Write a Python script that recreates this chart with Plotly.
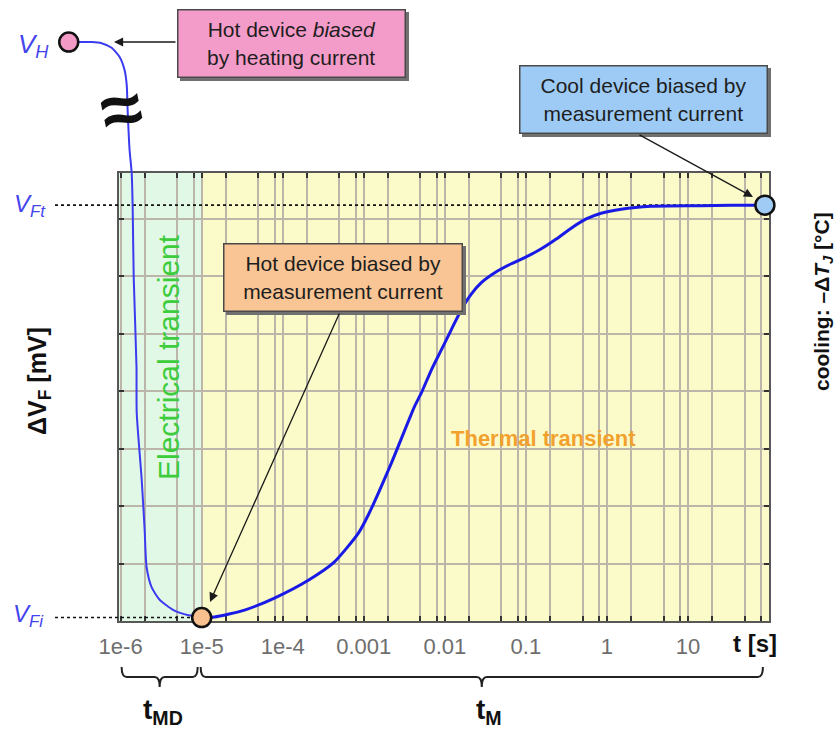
import numpy as np
import plotly.graph_objects as go

# ---------------------------------------------------------------- data
# forward-voltage cooling transient, t in seconds, dV_F in mV (arbitrary scale)
V_H = 10.08          # hot device, heating current (above the axis break)
V_FI = 0.06          # initial value under measurement current
V_FT = 7.24          # final value, cooled device
T_MD = 1e-5          # end of the electrical transient
T_END = 89.0         # end of the recorded transient

t_heat = [2.29e-7, 3.03e-7, 4.40e-7, 5.83e-7, 7.74e-7, 9.73e-7, 1.12e-6, 1.19e-6,
          1.22e-6, 1.29e-6, 1.37e-6, 1.41e-6, 1.45e-6, 1.57e-6, 1.58e-6, 1.82e-6,
          1.98e-6, 2.09e-6, 2.41e-6, 3.03e-6, 4.50e-6, 6.89e-6, 1.0e-5]
dv_heat = [10.08, 10.08, 10.08, 10.06, 9.98, 9.82, 9.59, 9.33,
           8.90, 8.20, 7.80, 7.16, 5.99, 4.42, 3.62, 2.46,
           1.58, 0.94, 0.59, 0.37, 0.19, 0.10, 0.07]

t_therm = [1.0e-5, 1.44e-5, 3.38e-5, 7.91e-5, 2.07e-4, 4.35e-4, 8.59e-4, 1.14e-3,
           2.19e-3, 4.21e-3, 5.13e-3, 6.82e-3, 9.06e-3, 1.20e-2, 1.60e-2, 2.12e-2,
           2.82e-2, 4.32e-2, 6.61e-2, 0.101, 0.155, 0.237, 0.363, 0.555,
           0.849, 1.50, 3.52, 14.5, 34.0, 79.8, 89.0]
dv_therm = [0.07, 0.07, 0.19, 0.40, 0.71, 1.03, 1.53, 1.85,
            2.75, 3.73, 3.97, 4.37, 4.72, 5.07, 5.42, 5.69,
            5.89, 6.08, 6.22, 6.34, 6.48, 6.65, 6.84, 7.00,
            7.10, 7.17, 7.22, 7.23, 7.24, 7.24, 7.24]

decade_labels = ["1e-6", "1e-5", "1e-4", "0.001", "0.01", "0.1", "1", "10"]
minor_mults = [2, 5, 8]
dv_grid = [1, 2, 3, 4, 5, 6, 7]

# ---------------------------------------------------------------- layout geometry
W, H = 839, 730
BOX_L, BOX_R, BOX_T, BOX_B = 119, 769, 173, 621
LOG_T0, LOG_T1 = -6.02, 2.0
DV0, DV1 = 0.0, 7.8

FONT = "Liberation Sans, Arial, sans-serif"


def px(xp):
    return xp / W


def py(yp):
    return 1 - yp / H


def t_to_xpix(t):
    return BOX_L + (np.log10(t) - LOG_T0) / (LOG_T1 - LOG_T0) * (BOX_R - BOX_L)


# overlay axes: same scales, stretched over the whole canvas
sx = (LOG_T1 - LOG_T0) / (BOX_R - BOX_L)
sy = (DV1 - DV0) / (BOX_B - BOX_T)
ov_x = [LOG_T0 - BOX_L * sx, LOG_T1 + (W - BOX_R) * sx]
ov_y = [DV0 - (H - BOX_B) * sy, DV1 + BOX_T * sy]

decades = [10.0 ** k for k in range(-6, 2)]
minor_vals = [m * d for d in decades for m in minor_mults]

fig = go.Figure()

# ---- main box (grid, ticks, labels)
fig.add_trace(go.Scatter(x=[1e-6, 100], y=[DV0, DV0], mode="lines",
                         line=dict(width=0), hoverinfo="skip",
                         xaxis="x", yaxis="y"))

# ---- curves and points on the overlay axes
x_dot_start = 10 ** (ov_x[0] + 55 * sx)
fig.add_trace(go.Scatter(x=[x_dot_start, T_END], y=[V_FT, V_FT], mode="lines",
                         line=dict(color="#111", width=1.6, dash="dot"),
                         xaxis="x2", yaxis="y2", hoverinfo="skip"))
fig.add_trace(go.Scatter(x=[x_dot_start, T_MD], y=[V_FI, V_FI], mode="lines",
                         line=dict(color="#111", width=1.6, dash="dot"),
                         xaxis="x2", yaxis="y2", hoverinfo="skip"))
fig.add_trace(go.Scatter(x=t_heat, y=dv_heat, mode="lines",
                         line=dict(color="#3b3bf0", width=2, shape="spline", smoothing=0.6),
                         xaxis="x2", yaxis="y2"))
fig.add_trace(go.Scatter(x=t_therm, y=dv_therm, mode="lines",
                         line=dict(color="#1a1ae6", width=3, shape="spline", smoothing=0.6),
                         xaxis="x2", yaxis="y2"))
fig.add_trace(go.Scatter(x=[t_heat[0], T_MD, T_END], y=[V_H, V_FI, V_FT], mode="markers",
                         marker=dict(size=19, color=["#f39ac6", "#f8c08e", "#9fcbf4"],
                                     line=dict(color="#111", width=2.5)),
                         xaxis="x2", yaxis="y2"))

tick_style = dict(ticks="inside", ticklen=5, tickwidth=1.5, tickcolor="#333")
grid_style = dict(showgrid=True, gridcolor="#bcb5aa", gridwidth=2)
fig.update_layout(
    width=W, height=H, margin=dict(l=0, r=0, t=0, b=0, pad=0), autosize=False,
    paper_bgcolor="white", plot_bgcolor="rgba(0,0,0,0)",
    showlegend=False, font=dict(family=FONT),
    xaxis=dict(type="log", range=[LOG_T0, LOG_T1], domain=[px(BOX_L), px(BOX_R)],
               anchor="y", tickmode="array", tickvals=decades, ticktext=decade_labels,
               **tick_style, **grid_style,
               minor=dict(tickmode="array", tickvals=minor_vals, **tick_style, **grid_style),
               showline=True, linecolor="#585858", linewidth=2, mirror="allticks",
               tickfont=dict(size=22, color="#6e6e6e", family=FONT),
               ticklabelstandoff=5, zeroline=False, automargin=False),
    yaxis=dict(range=[DV0, DV1], domain=[py(BOX_B), py(BOX_T)], anchor="x",
               tickmode="array", tickvals=dv_grid, showticklabels=False,
               **tick_style, **grid_style,
               showline=True, linecolor="#585858", linewidth=2, mirror="allticks",
               zeroline=False, automargin=False),
    xaxis2=dict(type="log", range=ov_x, domain=[0, 1], anchor="y2", visible=False,
                automargin=False),
    yaxis2=dict(range=ov_y, domain=[0, 1], anchor="x2", visible=False,
                automargin=False),
)

# ---- shaded regions of the box
x_md = t_to_xpix(T_MD)
shapes = [
    dict(type="rect", xref="paper", yref="paper", layer="below",
         x0=px(BOX_L), x1=px(x_md), y0=py(BOX_B), y1=py(BOX_T),
         fillcolor="#e2f8e6", line=dict(width=0)),
    dict(type="rect", xref="paper", yref="paper", layer="below",
         x0=px(x_md), x1=px(BOX_R), y0=py(BOX_B), y1=py(BOX_T),
         fillcolor="#fbfbc9", line=dict(width=0)),
]


def brace(x0, x1, ytop=667, ymid=677, ytip=687, r=5):
    xm = (x0 + x1) / 2
    pts = [("M", x0, ytop), ("Q", x0, ymid), ("", x0 + r, ymid), ("L", xm - r, ymid),
           ("Q", xm, ymid), ("", xm, ytip), ("Q", xm, ymid), ("", xm + r, ymid),
           ("L", x1 - r, ymid), ("Q", x1, ymid), ("", x1, ytop)]
    path = " ".join(f"{c} {px(a):.5f},{py(b):.5f}" if c else f"{px(a):.5f},{py(b):.5f}"
                    for c, a, b in pts)
    return dict(type="path", xref="paper", yref="paper", path=path,
                line=dict(color="#222", width=2))


shapes.append(brace(t_to_xpix(1e-6) + 1, x_md - 4))
shapes.append(brace(x_md - 1, t_to_xpix(T_END) - 2))

# callout boxes: (left, top, right, bottom, fill, text)
boxes = [
    (177, 9, 406, 78, "#f49cc9", "Hot device <i>biased</i><br>by heating current"),
    (519, 65, 768, 134, "#9dcbf5", "Cool device biased by<br>measurement current"),
    (223, 243, 463, 312, "#f9c595", "Hot device biased by<br>measurement current"),
]
for l, t, r, b, _, _ in boxes:
    shapes.append(dict(type="rect", xref="paper", yref="paper", layer="above",
                       x0=px(l + 3), x1=px(r + 3), y0=py(b + 3), y1=py(t + 3),
                       fillcolor="#707070", line=dict(width=0)))
fig.update_layout(shapes=shapes)

ann = []
for l, t, r, b, fill, text in boxes:
    ann.append(dict(xref="paper", yref="paper", x=px((l + r) / 2), y=py((t + b) / 2),
                    xanchor="center", yanchor="middle", showarrow=False,
                    text=text, width=r - l - 3, height=b - t - 3, borderpad=0,
                    bgcolor=fill, bordercolor="#4a4a4a", borderwidth=1.5,
                    font=dict(size=21, color="#1e1e1e", family=FONT)))

# callout arrows: (tail x, tail y, head x, head y)
arrows = [(177, 42, 114, 42), (638, 134, 753, 197), (340, 312, 210, 602)]
for x0, y0, x1, y1 in arrows:
    ann.append(dict(xref="paper", yref="paper", x=px(x1), y=py(y1),
                    ax=x0 - x1, ay=y0 - y1, axref="pixel", ayref="pixel",
                    text="", showarrow=True, arrowhead=2, arrowsize=1.4,
                    arrowwidth=1.3, arrowcolor="#1a1a1a", standoff=0))


def label(x, y, text, size, color="#111", angle=0, **kw):
    ann.append(dict(xref="paper", yref="paper", x=px(x), y=py(y), text=text,
                    showarrow=False, textangle=angle, xanchor="center", yanchor="middle",
                    font=dict(size=size, color=color, family=FONT), **kw))


blue_lab = "#4444ee"
label(33, 45, "<i>V<sub>H</sub></i>", 26, blue_lab)
label(30, 205, "<i>V<sub>Ft</sub></i>", 24, blue_lab)
label(28, 615, "<i>V<sub>Fi</sub></i>", 24, blue_lab)
label(121, 110, "<b>≈</b>", 74, "#111", angle=-12)
label(168, 357, "Electrical transient", 30, "#3ccc3c", angle=-90)
label(543, 438, "<b>Thermal transient</b>", 22, "#f2a12e")
label(39, 381, "<b>ΔV<sub>F</sub> [mV]</b>", 25, "#111", angle=-90)
label(823, 302, "<b>cooling: –Δ<i>T</i><sub><i>J</i></sub> [°C]</b>", 21, "#111", angle=-90)
label(755, 643, "<b>t [s]</b>", 24, "#111")
label(163, 711, "<b>t<sub>MD</sub></b>", 28, "#111")
label(489, 711, "<b>t<sub>M</sub></b>", 28, "#111")

fig.update_layout(annotations=ann)
fig.write_html("out.html")
